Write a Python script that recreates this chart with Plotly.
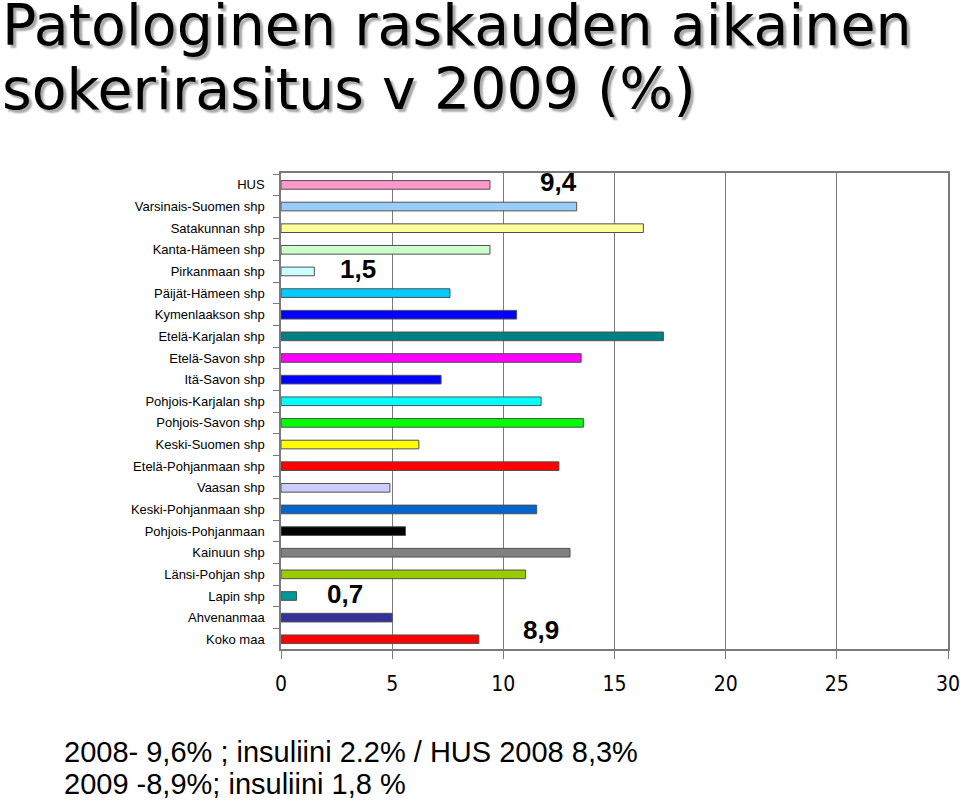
import plotly.graph_objects as go

categories = ["HUS", "Varsinais-Suomen shp", "Satakunnan shp", "Kanta-Hämeen shp",
              "Pirkanmaan shp", "Päijät-Hämeen shp", "Kymenlaakson shp",
              "Etelä-Karjalan shp", "Etelä-Savon shp", "Itä-Savon shp",
              "Pohjois-Karjalan shp", "Pohjois-Savon shp", "Keski-Suomen shp",
              "Etelä-Pohjanmaan shp", "Vaasan shp", "Keski-Pohjanmaan shp",
              "Pohjois-Pohjanmaan", "Kainuun shp", "Länsi-Pohjan shp",
              "Lapin shp", "Ahvenanmaa", "Koko maa"]
values = [9.4, 13.3, 16.3, 9.4, 1.5, 7.6, 10.6, 17.2, 13.5, 7.2, 11.7, 13.6,
          6.2, 12.5, 4.9, 11.5, 5.6, 13.0, 11.0, 0.7, 5.0, 8.9]
colors = ["#FF99CC", "#99CCFF", "#FFFF99", "#CCFFCC", "#CCFFFF", "#00CCFF",
          "#0000FF", "#008080", "#FF00FF", "#0000FF", "#00FFFF", "#00FF00",
          "#FFFF00", "#FF0000", "#CCCCFF", "#0066CC", "#000000", "#808080",
          "#99CC00", "#009999", "#333399", "#FF0000"]
x_ticks = [0, 5, 10, 15, 20, 25, 30]

callouts = [("9,4", 12.5, "HUS", 3), ("1,5", 3.45, "Pirkanmaan shp", 2),
            ("0,7", 2.9, "Lapin shp", 2), ("8,9", 11.7, "Koko maa", 9)]

title_lines = ["Patologinen raskauden aikainen", "sokerirasitus v 2009 (%)"]
note_lines = ["2008- 9,6% ; insuliini 2.2% / HUS 2008 8,3%",
              "2009 -8,9%; insuliini 1,8 %"]

W, H = 960, 805
L, R, T, B = 281, 948, 173, 649


def px(xp):
    return (xp - L) / (R - L)


def py(yp):
    return (B - yp) / (B - T)


fig = go.Figure(go.Bar(
    x=values, y=categories, orientation="h",
    marker=dict(color=colors, line=dict(color="#505050", width=1)),
    hoverinfo="x+y",
))

annotations = []
for txt, xv, cat, ys in callouts:
    annotations.append(dict(x=xv, y=cat, xref="x", yref="y", text=txt,
                            showarrow=False, yshift=ys,
                            font=dict(family="Liberation Sans, Arial", size=26,
                                      color="black", weight="bold")))
for t, yc in zip(title_lines, [24.5, 89]):
    annotations.append(dict(x=px(0), y=py(yc), xref="paper", yref="paper",
                            text=t, showarrow=False, xanchor="left", yanchor="middle",
                            font=dict(family="DejaVu Sans, Verdana", size=57, color="black",
                                      shadow="3px 3px 2px #A8A8A8")))
for t, yc in zip(note_lines, [752, 784]):
    annotations.append(dict(x=px(62), y=py(yc), xref="paper", yref="paper",
                            text=t, showarrow=False, xanchor="left", yanchor="middle",
                            font=dict(family="Liberation Sans, Arial", size=29, color="black")))

fig.update_layout(
    width=W, height=H,
    margin=dict(l=L, r=W - R, t=T, b=H - B, autoexpand=False),
    paper_bgcolor="white", plot_bgcolor="white",
    showlegend=False, bargap=0.6,
    annotations=annotations,
    xaxis=dict(range=[0, 30], tickvals=x_ticks, ticktext=[str(v) for v in x_ticks],
               showgrid=True, gridcolor="#7A7A7A", gridwidth=1,
               showline=True, linecolor="#7A7A7A", linewidth=1.5, mirror=True,
               ticks="outside", ticklen=8, tickcolor="#7A7A7A",
               ticklabelstandoff=7, zeroline=False, ticklabeloverflow="allow",
               tickfont=dict(family="Liberation Sans Narrow, DejaVu Sans Condensed, Arial",
                             size=21, color="black")),
    yaxis=dict(type="category", range=[21.45, -0.55], tickson="boundaries",
               showline=True, linecolor="#7A7A7A", linewidth=1.5, mirror=True,
               ticks="outside", ticklen=6, tickcolor="#7A7A7A", showgrid=False,
               ticklabelstandoff=12,
               tickfont=dict(family="Liberation Sans, Arial", size=13, color="black")),
)

fig.write_html("out.html", config={"displayModeBar": False},
               post_script="document.body.style.margin='0';")
